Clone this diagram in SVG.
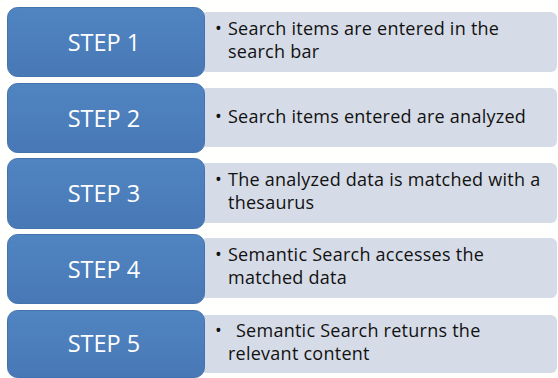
<svg xmlns="http://www.w3.org/2000/svg" width="558" height="378" viewBox="0 0 558 378">
<defs>
<linearGradient id="bg" x1="0" y1="0" x2="0" y2="1">
<stop offset="0" stop-color="#5085c2"/>
<stop offset="1" stop-color="#4878b5"/>
</linearGradient>
<style>
.step{fill:url(#bg);stroke:#4372ad;stroke-width:1}
.desc{fill:#d6dce7}
.st{font-family:"Open Sans","Liberation Sans",sans-serif;font-size:23.5px;fill:#ffffff;text-anchor:middle}
.tx{font-family:"Open Sans","Liberation Sans",sans-serif;font-size:18px;letter-spacing:0.25px;fill:#111111}
</style>
</defs>
<rect width="558" height="378" fill="#fffffd"/>
<g id="step1">
<rect class="desc" x="200" y="12" width="357" height="60" rx="6"/>
<rect class="step" x="7.5" y="7.5" width="197" height="69" rx="10"/>
<text class="st" x="104" y="51">STEP 1</text>
<text class="tx" y="35"><tspan x="215">•</tspan><tspan x="228">Search items are entered in the</tspan></text>
<text class="tx" x="228" y="58">search bar</text>
</g>
<g id="step2">
<rect class="desc" x="200" y="88" width="357" height="59" rx="6"/>
<rect class="step" x="7.5" y="83.5" width="197" height="69" rx="10"/>
<text class="st" x="104" y="127">STEP 2</text>
<text class="tx" y="123"><tspan x="215">•</tspan><tspan x="228">Search items entered are analyzed</tspan></text>
</g>
<g id="step3">
<rect class="desc" x="200" y="163" width="357" height="60" rx="6"/>
<rect class="step" x="7.5" y="158.5" width="197" height="70" rx="10"/>
<text class="st" x="104" y="202">STEP 3</text>
<text class="tx" y="186"><tspan x="215">•</tspan><tspan x="228">The analyzed data is matched with a</tspan></text>
<text class="tx" x="228" y="209">thesaurus</text>
</g>
<g id="step4">
<rect class="desc" x="200" y="238" width="357" height="60" rx="6"/>
<rect class="step" x="7.5" y="234.5" width="197" height="69" rx="10"/>
<text class="st" x="104" y="278">STEP 4</text>
<text class="tx" y="261"><tspan x="215">•</tspan><tspan x="228">Semantic Search accesses the</tspan></text>
<text class="tx" x="228" y="284">matched data</text>
</g>
<g id="step5">
<rect class="desc" x="200" y="315" width="357" height="58" rx="6"/>
<rect class="step" x="7.5" y="310.5" width="197" height="67" rx="10"/>
<text class="st" x="104" y="352">STEP 5</text>
<text class="tx" y="337"><tspan x="215">•</tspan><tspan x="236">Semantic Search returns the</tspan></text>
<text class="tx" x="228" y="360">relevant content</text>
</g>
<g id="connectors"/>
</svg>
